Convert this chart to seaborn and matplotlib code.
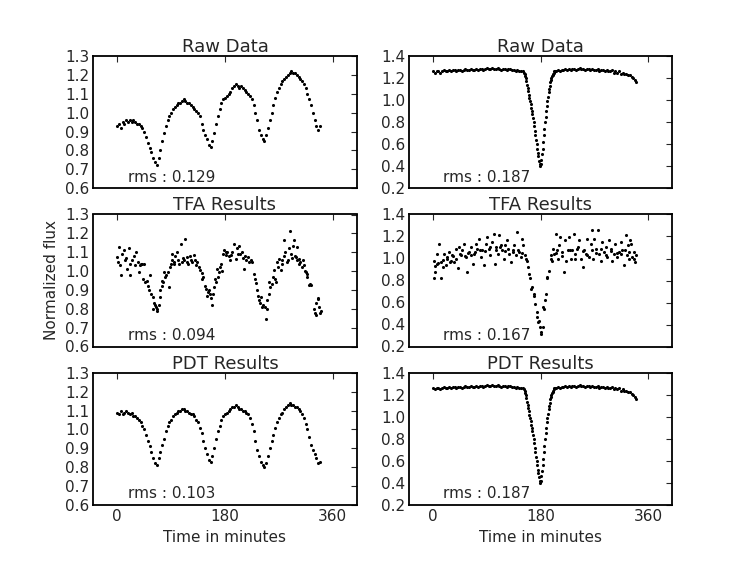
import matplotlib
matplotlib.use("Agg")
import matplotlib.pyplot as plt
import seaborn as sns
import pandas as pd

# ---- left column: pulsating star, sampled every 3 minutes ----
left_t = [0, 3, 6, 9, 12, 15, 18, 21, 24, 27,
          30, 33, 36, 39, 42, 45, 48, 51, 54, 57,
          60, 63, 66, 69, 72, 75, 78, 81, 84, 87,
          90, 93, 96, 99, 102, 105, 108, 111, 114, 117,
          120, 123, 126, 129, 132, 135, 138, 141, 144, 147,
          150, 153, 156, 159, 162, 165, 168, 171, 174, 177,
          180, 183, 186, 189, 192, 195, 198, 201, 204, 207,
          210, 213, 216, 219, 222, 225, 228, 231, 234, 237,
          240, 243, 246, 249, 252, 255, 258, 261, 264, 267,
          270, 273, 276, 279, 282, 285, 288, 291, 294, 297,
          300, 303, 306, 309, 312, 315, 318, 321, 324, 327,
          330, 333, 336, 339]

raw_left = [0.93, 0.94, 0.92, 0.95, 0.94, 0.96, 0.95, 0.96, 0.95, 0.96,
            0.95, 0.94, 0.94, 0.93, 0.92, 0.90, 0.87, 0.84, 0.81, 0.79,
            0.76, 0.74, 0.72, 0.76, 0.80, 0.85, 0.89, 0.93, 0.96, 0.98,
            1.00, 1.02, 1.03, 1.04, 1.05, 1.05, 1.06, 1.07, 1.06, 1.05,
            1.05, 1.04, 1.03, 1.02, 1.01, 1.00, 0.98, 0.94, 0.91, 0.88,
            0.86, 0.83, 0.82, 0.85, 0.89, 0.94, 0.98, 1.02, 1.05, 1.07,
            1.08, 1.09, 1.10, 1.11, 1.13, 1.14, 1.15, 1.14, 1.13, 1.14,
            1.13, 1.12, 1.11, 1.10, 1.09, 1.07, 1.04, 1.00, 0.96, 0.91,
            0.88, 0.86, 0.85, 0.88, 0.92, 0.96, 1.00, 1.04, 1.08, 1.11,
            1.13, 1.15, 1.17, 1.18, 1.19, 1.20, 1.21, 1.22, 1.21, 1.21,
            1.20, 1.19, 1.18, 1.17, 1.15, 1.13, 1.10, 1.07, 1.04, 1.00,
            0.96, 0.93, 0.91, 0.93]

pdt_left = [1.09, 1.08, 1.10, 1.08, 1.09, 1.10, 1.09, 1.08, 1.09, 1.07,
            1.07, 1.06, 1.05, 1.04, 1.02, 1.00, 0.97, 0.94, 0.91, 0.88,
            0.85, 0.82, 0.81, 0.85, 0.88, 0.92, 0.95, 0.99, 1.02, 1.04,
            1.05, 1.07, 1.08, 1.09, 1.10, 1.10, 1.11, 1.11, 1.10, 1.10,
            1.09, 1.08, 1.08, 1.07, 1.05, 1.04, 1.01, 0.98, 0.94, 0.90,
            0.87, 0.84, 0.83, 0.86, 0.90, 0.95, 0.99, 1.02, 1.05, 1.07,
            1.08, 1.09, 1.10, 1.11, 1.12, 1.12, 1.13, 1.12, 1.11, 1.11,
            1.10, 1.10, 1.09, 1.08, 1.06, 1.03, 0.99, 0.94, 0.89, 0.86,
            0.83, 0.81, 0.80, 0.82, 0.86, 0.90, 0.94, 0.97, 1.01, 1.04,
            1.06, 1.08, 1.09, 1.11, 1.12, 1.13, 1.14, 1.13, 1.13, 1.12,
            1.12, 1.11, 1.10, 1.08, 1.06, 1.03, 1.00, 0.96, 0.92, 0.89,
            0.87, 0.85, 0.82, 0.83]

tfa_left_t = [0, 1, 3, 4, 6, 8, 11, 13, 15, 17, 19, 21, 22, 25, 28, 30, 32, 34, 36, 38,
              40, 42, 43, 45, 47, 49, 51, 53, 55, 57, 59, 60, 61, 63, 64, 66, 67, 69, 71, 72,
              74, 75, 77, 78, 80, 82, 84, 86, 88, 89, 91, 92, 94, 95, 97, 100, 102, 104, 106, 108,
              110, 112, 114, 116, 117, 119, 121, 123, 125, 128, 130, 131, 134, 137, 139, 141, 142, 144, 146, 148,
              150, 151, 153, 155, 156, 158, 160, 162, 164, 165, 167, 169, 170, 172, 173, 175, 177, 179, 181, 182,
              184, 186, 188, 190, 192, 195, 198, 200, 202, 204, 206, 208, 210, 212, 214, 216, 218, 220, 223, 226,
              229, 230, 232, 234, 236, 237, 239, 240, 242, 244, 247, 248, 250, 251, 253, 254, 256, 258, 260, 262,
              264, 265, 267, 269, 271, 273, 275, 276, 278, 279, 281, 283, 285, 287, 289, 290, 292, 293, 295, 297,
              298, 300, 301, 303, 304, 306, 308, 310, 312, 314, 315, 317, 318, 321, 322, 324, 329, 330, 332, 333,
              335, 336, 338, 339, 340]
tfa_left_v = [1.075, 1.05, 1.13, 1.03, 0.98, 1.09, 1.11, 1.06, 1.07, 1.01, 1.12, 1.04, 0.98, 1.06, 1.08, 1.03, 1.10, 1.05, 0.995, 1.03,
              1.04, 1.04, 0.96, 1.04, 0.94, 0.95, 0.92, 0.90, 0.98, 0.88, 0.86, 0.80, 0.83, 0.82, 0.81, 0.79, 0.80, 0.82, 0.86, 0.90,
              0.92, 0.95, 0.94, 0.995, 0.97, 0.98, 0.995, 0.915, 1.02, 1.04, 1.06, 1.09, 1.05, 1.04, 1.08, 1.10, 1.06, 1.04, 1.145, 1.05,
              1.07, 1.06, 1.17, 1.05, 1.075, 1.04, 1.08, 1.06, 1.05, 1.085, 1.06, 1.03, 1.05, 1.02, 1.005, 0.99, 0.96, 0.97, 0.92, 0.905,
              0.87, 0.89, 0.90, 0.88, 0.855, 0.82, 0.88, 0.915, 0.96, 0.94, 1.01, 0.97, 0.995, 1.02, 1.04, 1.00, 1.09, 1.11, 1.085, 1.10,
              1.10, 1.08, 1.06, 1.085, 1.10, 1.145, 1.065, 1.12, 1.09, 1.135, 1.09, 1.10, 1.07, 1.01, 1.08, 1.06, 1.075, 1.05, 1.06, 1.05,
              0.985, 0.96, 0.935, 0.90, 0.87, 0.845, 0.83, 0.86, 0.81, 0.82, 0.81, 0.745, 0.80, 0.845, 0.88, 0.94, 0.915, 0.93, 0.97, 1.005,
              0.96, 0.94, 1.05, 1.02, 1.065, 1.005, 1.06, 1.04, 1.08, 1.165, 1.10, 1.05, 1.06, 1.12, 1.215, 1.09, 1.07, 1.135, 1.165, 1.08,
              1.075, 1.06, 1.13, 1.04, 1.065, 1.05, 1.02, 1.06, 1.03, 1.00, 0.995, 0.97, 0.985, 0.925, 0.93, 0.925, 0.80, 0.78, 0.765, 0.83,
              0.855, 0.85, 0.81, 0.78, 0.79]

# ---- right column: eclipsing system, 1-minute sampling through the eclipse ----
right_t = [0, 3, 6, 9, 12, 15, 18, 21, 24, 27,
           30, 33, 36, 39, 42, 45, 48, 51, 54, 57,
           60, 63, 66, 69, 72, 75, 78, 81, 84, 87,
           90, 93, 96, 99, 102, 105, 108, 111, 114, 117,
           120, 123, 126, 129, 132, 135, 138, 141, 144, 147,
           150,
           152, 153, 154, 155, 156, 157, 158, 159, 160, 161,
           162, 163, 164, 165, 166, 167, 168, 169, 170, 171,
           172, 173, 174, 175, 176, 177, 178, 179, 180, 181,
           182, 183, 184, 185, 186, 187, 188, 189, 190, 191,
           192, 193, 194, 195, 196, 197, 198, 199, 200, 201,
           202, 203, 204,
           206, 209, 212, 215, 218, 221, 224, 227, 230, 233,
           236, 239, 242, 245, 248, 251, 254, 257, 260, 263,
           266, 269, 272, 275, 278, 281, 284, 287, 290, 293,
           296, 299, 302, 305, 308, 311, 314, 317, 320, 323,
           326, 329, 332, 335, 338, 340]

raw_right = [1.26, 1.25, 1.26, 1.26, 1.25, 1.26, 1.27, 1.26, 1.26, 1.27,
             1.26, 1.27, 1.27, 1.26, 1.27, 1.27, 1.26, 1.27, 1.28, 1.27,
             1.27, 1.28, 1.27, 1.27, 1.28, 1.27, 1.28, 1.28, 1.27, 1.28,
             1.29, 1.28, 1.28, 1.29, 1.28, 1.28, 1.29, 1.28, 1.27, 1.28,
             1.28, 1.27, 1.28, 1.28, 1.27, 1.27, 1.26, 1.27, 1.26, 1.26,
             1.26,
             1.25, 1.24, 1.22, 1.20, 1.17, 1.14, 1.11, 1.08, 1.05, 1.02,
             0.99, 0.96, 0.93, 0.90, 0.87, 0.84, 0.80, 0.76, 0.72, 0.68,
             0.64, 0.60, 0.56, 0.52, 0.49, 0.45, 0.42, 0.40, 0.42, 0.46,
             0.51, 0.56, 0.62, 0.68, 0.74, 0.80, 0.85, 0.90, 0.95, 0.99,
             1.03, 1.07, 1.10, 1.13, 1.16, 1.18, 1.20, 1.22, 1.23, 1.24,
             1.25, 1.26, 1.26,
             1.26, 1.27, 1.26, 1.27, 1.27, 1.28, 1.27, 1.28, 1.27, 1.28,
             1.28, 1.27, 1.28, 1.29, 1.28, 1.28, 1.27, 1.28, 1.28, 1.27,
             1.28, 1.27, 1.27, 1.28, 1.26, 1.27, 1.27, 1.26, 1.27, 1.26,
             1.26, 1.27, 1.25, 1.26, 1.25, 1.26, 1.24, 1.25, 1.24, 1.24,
             1.23, 1.23, 1.21, 1.20, 1.18, 1.16]

# PDT output on the eclipsing system is indistinguishable from the raw curve
pdt_right = list(raw_right)

tfa_right_t = [2, 2, 3, 4, 6, 7, 9, 10, 13, 14, 16, 17, 18, 21, 23, 24, 27, 28, 30, 32,
               34, 35, 38, 39, 41, 43, 45, 46, 49, 52, 53, 55, 57, 59, 60, 63, 64, 66, 69, 70,
               71, 74, 77, 78, 80, 82, 85, 87, 88, 91, 93, 95, 96, 99, 102, 103, 105, 106, 108, 110,
               112, 113, 116, 119, 120, 121, 124, 126, 127, 130, 133, 134, 135, 138, 141, 142, 144, 147, 148, 149,
               151, 153, 155, 157, 158, 160, 162, 164, 166, 168, 169, 170, 173, 174, 176, 177, 179, 180, 181, 183,
               184, 185, 187, 188, 190, 191, 194, 197, 198, 199, 201, 203, 205, 206, 208, 209, 211, 213, 215, 216,
               219, 220, 222, 225, 227, 229, 230, 233, 236, 237, 238, 241, 243, 244, 247, 250, 250, 252, 255, 258,
               258, 261, 264, 265, 266, 268, 269, 272, 273, 275, 277, 280, 281, 283, 286, 289, 289, 291, 294, 297,
               298, 300, 302, 305, 307, 308, 311, 314, 315, 316, 319, 321, 322, 324, 326, 328, 328, 329, 331, 333,
               336, 336, 338, 340]
tfa_right_v = [0.98, 0.82, 0.93, 0.88, 0.95, 1.04, 0.96, 1.135, 0.97, 0.82, 0.92, 0.99, 1.04, 0.94, 1.00, 1.01, 1.06, 0.97, 0.98, 1.03,
               1.02, 0.97, 1.09, 1.00, 0.91, 1.105, 1.04, 1.03, 1.075, 1.135, 1.02, 1.01, 0.88, 1.05, 1.06, 1.105, 1.03, 0.95, 1.04, 1.06,
               1.135, 1.09, 1.18, 1.08, 1.01, 1.075, 0.94, 1.07, 1.135, 1.195, 1.09, 1.10, 1.03, 1.15, 1.225, 0.95, 1.105, 1.08, 1.04, 1.21,
               1.10, 1.12, 1.075, 1.00, 1.07, 1.12, 1.165, 1.09, 1.04, 0.97, 1.075, 1.06, 1.12, 1.03, 1.24, 1.08, 1.06, 1.01, 1.05, 1.18,
               1.12, 1.03, 1.00, 0.98, 0.92, 0.86, 0.82, 0.72, 0.74, 0.66, 0.68, 0.59, 0.51, 0.47, 0.42, 0.43, 0.375, 0.315, 0.33, 0.375,
               0.56, 0.54, 0.62, 0.68, 0.82, 0.83, 0.89, 1.00, 1.03, 0.98, 1.09, 1.04, 1.225, 1.05, 1.075, 1.00, 1.12, 1.195, 1.02, 1.06,
               0.88, 1.165, 0.98, 1.075, 1.195, 1.08, 1.00, 1.075, 1.225, 1.04, 1.00, 1.09, 1.10, 1.165, 1.00, 0.92, 1.07, 1.075, 1.04, 1.18,
               1.03, 1.01, 1.135, 1.08, 1.255, 1.00, 1.18, 1.09, 1.05, 1.255, 1.04, 0.98, 1.09, 1.15, 1.06, 1.105, 1.03, 1.01, 1.165, 1.09,
               1.07, 0.98, 1.04, 1.135, 1.05, 1.01, 1.06, 1.15, 1.04, 1.075, 0.94, 1.08, 1.21, 1.03, 1.12, 1.06, 1.00, 1.165, 1.135, 1.01,
               1.06, 1.00, 0.97, 1.03]

titles = ["Raw Data", "TFA Results", "PDT Results"]
rms_left = ["0.129", "0.094", "0.103"]
rms_right = ["0.187", "0.167", "0.187"]

sns.set_style("white", {
    "xtick.direction": "in",
    "ytick.direction": "in",
    "axes.edgecolor": "black",
    "axes.linewidth": 1.3,
})
plt.rcParams["font.family"] = ["DejaVu Sans"]
plt.rcParams["font.size"] = 11

fig, axes = plt.subplots(3, 2, figsize=(7.47, 5.61), dpi=100)
plt.subplots_adjust(left=0.125, right=0.9, bottom=0.1, top=0.9, wspace=0.2, hspace=0.2)

panels = [
    (left_t, raw_left, left_t, pdt_left, tfa_left_t, tfa_left_v),
    (right_t, raw_right, right_t, pdt_right, tfa_right_t, tfa_right_v),
]

for col, (rt, rv, pt, pv, tt, tv) in enumerate(panels):
    series = [(rt, rv), (tt, tv), (pt, pv)]
    rms = rms_left if col == 0 else rms_right
    for row, (x, y) in enumerate(series):
        ax = axes[row, col]
        df = pd.DataFrame({"t": x, "flux": y})
        sns.scatterplot(data=df, x="t", y="flux", ax=ax, color="black",
                        s=5, linewidth=0, legend=False)
        ax.set_xlim(-40, 400)
        if col == 0:
            ax.set_ylim(0.6, 1.3)
            ax.set_yticks([0.6, 0.7, 0.8, 0.9, 1.0, 1.1, 1.2, 1.3])
        else:
            ax.set_ylim(0.2, 1.4)
            ax.set_yticks([0.2, 0.4, 0.6, 0.8, 1.0, 1.2, 1.4])
        ax.set_xticks([0, 180, 360])
        ax.tick_params(direction="in", length=4, width=0.8, top=True, right=True,
                       labelsize=11, pad=3, labelbottom=(row == 2))
        ax.set_title(titles[row], fontsize=13, pad=3)
        ax.set_xlabel("Time in minutes" if row == 2 else "", fontsize=11)
        ax.set_ylabel("")
        ax.text(0.13, 0.05, "rms : " + rms[row], transform=ax.transAxes, fontsize=11)
        for sp in ax.spines.values():
            sp.set_visible(True)
            sp.set_linewidth(1.3)

axes[1, 0].set_ylabel("Normalized flux", fontsize=11)

fig.savefig("out.png", dpi=100)
